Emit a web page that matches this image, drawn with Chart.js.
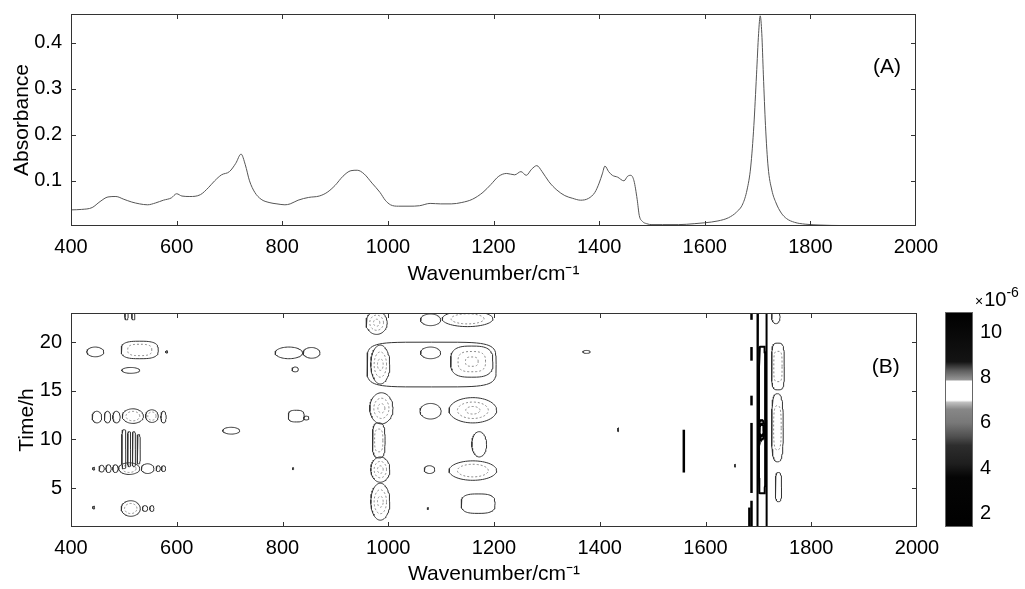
<!DOCTYPE html>
<html><head><meta charset="utf-8">
<script src="https://cdn.jsdelivr.net/npm/chart.js@4.4.1/dist/chart.umd.min.js"></script>
<style>
html,body{margin:0;padding:0;background:#fff;width:1025px;height:589px;overflow:hidden;position:relative}
canvas{position:absolute}
</style></head><body>
<canvas id="cA" width="1025" height="290" style="left:0px;top:0px"></canvas>
<canvas id="cB" width="1025" height="299" style="left:0px;top:290px"></canvas>
<canvas id="cC" width="95" height="309" style="left:930px;top:280px"></canvas>
<script>
// ---------- data ----------
const specWn = [400,420,440,455,470,485,500,515,530,545,560,575,590,600,610,625,645,660,672,685,700,712,722,730,738,748,760,775,790,805,815,830,850,870,885,900,915,930,942,955,970,985,995,1005,1020,1040,1060,1080,1100,1120,1140,1160,1180,1195,1210,1225,1240,1252,1262,1272,1282,1292,1305,1320,1335,1350,1365,1380,1392,1400,1406,1411,1418,1425,1435,1447,1454,1460,1466,1472,1476,1482,1490,1500,1520,1550,1580,1600,1625,1645,1660,1672,1680,1687,1693,1698,1702,1705,1708,1711,1715,1720,1727,1735,1745,1755,1770,1790,1820,1860,1900,1950,2000];
const specAbs = [0.037,0.038,0.042,0.055,0.065,0.066,0.06,0.054,0.05,0.048,0.052,0.058,0.063,0.072,0.067,0.066,0.07,0.085,0.1,0.113,0.12,0.138,0.158,0.135,0.1,0.075,0.06,0.053,0.05,0.048,0.05,0.058,0.064,0.067,0.075,0.09,0.11,0.122,0.123,0.115,0.095,0.075,0.058,0.048,0.045,0.045,0.046,0.051,0.05,0.05,0.053,0.06,0.075,0.092,0.11,0.116,0.113,0.12,0.112,0.125,0.133,0.12,0.098,0.08,0.068,0.062,0.058,0.062,0.075,0.095,0.115,0.132,0.12,0.112,0.108,0.1,0.11,0.112,0.1,0.06,0.025,0.012,0.007,0.005,0.005,0.005,0.007,0.009,0.013,0.02,0.032,0.05,0.08,0.13,0.22,0.33,0.42,0.458,0.42,0.33,0.22,0.13,0.08,0.052,0.03,0.018,0.01,0.006,0.004,0.003,0.003,0.003,0.003];
const xTicks = [400,600,800,1000,1200,1400,1600,1800,2000];
const absTicks = [0.1,0.2,0.3,0.4];
const timeTicks = [5,10,15,20];
const cbTicks = [2,4,6,8,10];

// contour blobs of panel (B): centre wavenumber, centre time, half widths, number of nested levels, squareness
const blobWn = [446,530,581,513,449,469,486,517,553,575,703,500,510,519,528,443,458,471,484,510,545,565,575,443,513,540,553,505,518,812,855,824,826,845,820,
                978,1082,985,1080,1158,987,982,985,985,1080,1150,1080,1160,1172,1078,1160,1170,1075,1375,1435,1656,
                1707,1706,1733,1737,1736,1738];
const blobT  = [19.0,19.2,19.0,17.1,12.3,12.3,12.3,12.4,12.4,12.3,10.9,9.0,9.0,9.0,9.0,7.0,7.0,7.0,7.0,7.0,7.0,7.0,7.0,3.0,2.9,2.9,2.9,22.8,22.8,18.9,18.9,17.2,12.4,12.2,7.0,
                22.0,17.7,17.7,18.9,18.0,13.2,9.9,6.9,3.6,22.3,22.4,12.9,13.0,9.5,6.9,6.8,3.4,2.9,19.0,11.0,7.3,
                12.0,11.0,22.6,17.5,11.2,5.1];
const blobHw = [16,35,2,17,9,6,7,20,12,5,16,4,3,3,3,2,5,5,5,20,12,4,4,2,18,5,4,3,3,26,16,6,15,5,1.5,
                20,122,18,19,40,22,12,18,18,19,48,20,45,14,10,45,32,1.5,7,1,1,
                9,6,8,12,11,6];
const blobHh = [0.5,0.9,0.12,0.3,0.6,0.6,0.6,0.75,0.65,0.6,0.35,2.0,1.8,1.8,1.5,0.15,0.35,0.4,0.4,0.6,0.5,0.3,0.3,0.15,0.8,0.3,0.3,0.5,0.5,0.6,0.55,0.25,0.6,0.2,0.1,
                1.2,2.3,2.0,0.6,1.6,1.6,1.8,1.3,1.9,0.6,0.8,0.8,1.3,1.3,0.4,1.0,1.0,0.1,0.15,0.2,0.15,
                11.6,1.0,0.7,2.4,3.5,1.5];
const blobLevels = [1,2,1,1,1,1,1,2,2,1,1,1,1,1,1,1,1,1,1,2,1,1,1,1,2,1,1,1,1,1,1,1,1,1,1,
                    3,1,3,1,3,3,2,3,3,1,2,1,3,1,1,2,1,1,1,1,1,
                    2,2,1,2,2,1];
const blobSquare = [2,3,2,2,2,2,2,2,2,2,2,4,4,4,4,2,2,2,2,2,2,2,2,2,2,2,2,4,4,2,2,2,3,2,2,
                    2,5,2,2,3,2,3,2,2,2,2,2,2,2,2,2,3,2,2,2,2,
                    10,2,2,4,3,3];
// short steep contour segments (vertical)
const segWn = [1559,1687,1687,1687,1687,1687,1683];
const segT0 = [6.6,22.3,18.1,13.5,4.5,1.0,1.0];
const segT1 = [11.0,23.0,19.5,14.5,11.7,3.7,3.0];
// colour bar
const cbMin = 1.4, cbMax = 10.9;
const cbLevels = [1.4,3.6,4.2,5.0,5.4,6.0,6.6,6.9,7.0,7.85,7.9,8.3,8.7,10.9];
const cbGray   = [0,5,30,45,80,120,135,190,255,255,150,95,20,0];

// ---------- rendering ----------
Chart.defaults.font.family = "'Liberation Sans', Arial, Helvetica, sans-serif";
Chart.defaults.color = '#000';
Chart.defaults.animation = false;

const noPadX = s => { s.paddingLeft = 0; s.paddingRight = 0; };
const noPadY = s => { s.paddingTop = 0; s.paddingBottom = 0; };

const framePlugin = {
  id: 'frame',
  afterDatasetsDraw(chart) {
    const {ctx, chartArea: a, scales} = chart;
    ctx.save();
    ctx.strokeStyle = '#333'; ctx.lineWidth = 1;
    ctx.strokeRect(Math.round(a.left) + 0.5, Math.round(a.top) + 0.5, Math.round(a.right - a.left) - 1, Math.round(a.bottom - a.top) - 1);
    const L = 5;
    ctx.beginPath();
    for (const t of scales.x.ticks) {
      const px = Math.round(scales.x.getPixelForValue(t.value)) + 0.5;
      if (px <= a.left + 2 || px >= a.right - 2) continue;
      ctx.moveTo(px, a.bottom); ctx.lineTo(px, a.bottom - L);
      ctx.moveTo(px, a.top); ctx.lineTo(px, a.top + L);
    }
    for (const t of scales.y.ticks) {
      const py = Math.round(scales.y.getPixelForValue(t.value)) + 0.5;
      if (py <= a.top + 2 || py >= a.bottom - 2) continue;
      ctx.moveTo(a.left, py); ctx.lineTo(a.left + L, py);
      ctx.moveTo(a.right, py); ctx.lineTo(a.right - L, py);
    }
    ctx.stroke();
    ctx.restore();
  }
};
const panelLabel = {
  id: 'panelLabel',
  afterDraw(chart, args, opts) {
    const {ctx, scales} = chart;
    ctx.save();
    ctx.font = "21px 'Liberation Sans', Arial, sans-serif";
    ctx.fillStyle = '#000'; ctx.textAlign = 'center'; ctx.textBaseline = 'middle';
    ctx.fillText(opts.text, scales.x.getPixelForValue(opts.x), scales.y.getPixelForValue(opts.y));
    ctx.restore();
  }
};

const tickFont = {size: 20};
const titleFont = {size: 21};

// Panel A
new Chart(document.getElementById('cA'), {
  type: 'scatter',
  data: {datasets: [{
    data: specWn.map((w, i) => ({x: w, y: specAbs[i]})),
    showLine: true, borderColor: '#555', borderWidth: 1, pointRadius: 0,
    cubicInterpolationMode: 'monotone'
  }]},
  options: {
    responsive: false,
    layout: {padding: {left: 0, right: 109, top: 14, bottom: 0}},
    plugins: {legend: {display: false}, tooltip: {enabled: false},
      panelLabel: {text: '(A)', x: 1945, y: 0.346}},
    scales: {
      x: {type: 'linear', min: 400, max: 2000,
        afterBuildTicks: s => { s.ticks = xTicks.map(v => ({value: v})); },
        afterFit: s => { s.height = 64; noPadX(s); },
        grid: {display: false, drawTicks: false}, border: {display: false},
        ticks: {font: tickFont, padding: 9, maxRotation: 0, callback: v => String(v)},
        title: {display: true, text: 'Wavenumber/cm⁻¹', font: titleFont, padding: {top: 0, bottom: 3}}
      },
      y: {type: 'linear', min: 0.002, max: 0.462,
        afterBuildTicks: s => { s.ticks = absTicks.map(v => ({value: v})); },
        afterFit: s => { s.width = 71; noPadY(s); },
        grid: {display: false, drawTicks: false}, border: {display: false},
        ticks: {font: tickFont, padding: 9, callback: v => v.toFixed(1)},
        title: {display: true, text: 'Absorbance', font: titleFont, padding: {top: 10, bottom: 0}}
      }
    }
  },
  plugins: [framePlugin, panelLabel]
});

// Panel B
const contourSets = [];
const NP = 60;
blobWn.forEach((wn, i) => {
  const n = blobLevels[i], p = blobSquare[i];
  const heavy = wn > 1695 && wn < 1715;
  for (let r = 0; r < n; r++) {
    const k = 1 - r * 0.35;
    const pts = [];
    for (let j = 0; j <= NP; j++) {
      const th = j / NP * 2 * Math.PI, c = Math.cos(th), s = Math.sin(th);
      pts.push({
        x: wn + k * blobHw[i] * Math.sign(c) * Math.pow(Math.abs(c), 2 / p),
        y: blobT[i] + k * blobHh[i] * Math.sign(s) * Math.pow(Math.abs(s), 2 / p)
      });
    }
    contourSets.push({
      data: pts, showLine: true, pointRadius: 0, tension: 0,
      borderColor: heavy ? '#000' : (r === 0 ? '#333' : '#888'),
      borderWidth: heavy ? 2 : 1,
      borderDash: (r === 0 || heavy) ? [] : [2, 2]
    });
  }
});
segWn.forEach((wn, i) => {
  contourSets.push({
    data: [{x: wn, y: segT0[i]}, {x: wn, y: segT1[i]}],
    showLine: true, pointRadius: 0, borderColor: '#000', borderWidth: 2.5
  });
});

new Chart(document.getElementById('cB'), {
  type: 'scatter',
  data: {datasets: contourSets},
  options: {
    responsive: false,
    layout: {padding: {left: 0, right: 108, top: 23, bottom: 0}},
    plugins: {legend: {display: false}, tooltip: {enabled: false},
      panelLabel: {text: '(B)', x: 1941, y: 17.4}},
    scales: {
      x: {type: 'linear', min: 400, max: 2000,
        afterBuildTicks: s => { s.ticks = xTicks.map(v => ({value: v})); },
        afterFit: s => { s.height = 62; noPadX(s); },
        grid: {display: false, drawTicks: false}, border: {display: false},
        ticks: {font: tickFont, padding: 9, maxRotation: 0, callback: v => String(v)},
        title: {display: true, text: 'Wavenumber/cm⁻¹', font: titleFont, padding: {top: 0, bottom: 2}}
      },
      y: {type: 'linear', min: 1, max: 23,
        afterBuildTicks: s => { s.ticks = timeTicks.map(v => ({value: v})); },
        afterFit: s => { s.width = 71; noPadY(s); },
        grid: {display: false, drawTicks: false}, border: {display: false},
        ticks: {font: tickFont, padding: 9, callback: v => String(v)},
        title: {display: true, text: 'Time/h', font: titleFont, padding: {top: 15, bottom: 0}}
      }
    }
  },
  plugins: [framePlugin, panelLabel]
});

// Colour bar
const cbPlugin = {
  id: 'cbx',
  afterDraw(chart) {
    const {ctx, chartArea: a} = chart;
    ctx.save();
    ctx.strokeStyle = '#666'; ctx.lineWidth = 1;
    ctx.strokeRect(a.left + 0.5, a.top + 0.5, a.right - a.left - 1, a.bottom - a.top - 1);
    ctx.fillStyle = '#000'; ctx.textAlign = 'left'; ctx.textBaseline = 'alphabetic';
    const x0 = a.left + 30, yb = a.top - 6;
    ctx.font = "14px 'Liberation Sans', Arial, sans-serif";
    ctx.fillText('×', x0, yb);
    const wx = ctx.measureText('×').width;
    ctx.font = "20px 'Liberation Sans', Arial, sans-serif";
    ctx.fillText('10', x0 + wx + 1, yb);
    const w10 = ctx.measureText('10').width;
    ctx.font = "14px 'Liberation Sans', Arial, sans-serif";
    ctx.fillText('-6', x0 + wx + 1 + w10, yb - 9);
    ctx.restore();
  }
};
new Chart(document.getElementById('cC'), {
  type: 'bar',
  data: {labels: [''], datasets: [{
    data: [[cbMin, cbMax]],
    barPercentage: 1, categoryPercentage: 1, borderWidth: 0,
    backgroundColor: (context) => {
      const chart = context.chart;
      const {ctx, chartArea, scales} = chart;
      if (!chartArea) return '#000';
      const y0 = scales.y.getPixelForValue(cbMin), y1 = scales.y.getPixelForValue(cbMax);
      const g = ctx.createLinearGradient(0, y0, 0, y1);
      cbLevels.forEach((v, i) => {
        const f = (v - cbMin) / (cbMax - cbMin);
        const c = cbGray[i];
        g.addColorStop(Math.min(1, Math.max(0, f)), `rgb(${c},${c},${c})`);
      });
      return g;
    }
  }]},
  options: {
    responsive: false,
    layout: {padding: {left: 15, right: 0, top: 32, bottom: 62}},
    plugins: {legend: {display: false}, tooltip: {enabled: false}},
    scales: {
      x: {display: false},
      y: {position: 'right', min: cbMin, max: cbMax,
        afterBuildTicks: s => { s.ticks = cbTicks.map(v => ({value: v})); },
        afterFit: s => { s.width = 52; noPadY(s); },
        grid: {display: false, drawTicks: false}, border: {display: false},
        ticks: {font: tickFont, padding: 7, callback: v => String(v)}
      }
    }
  },
  plugins: [cbPlugin]
});
</script>
</body></html>
